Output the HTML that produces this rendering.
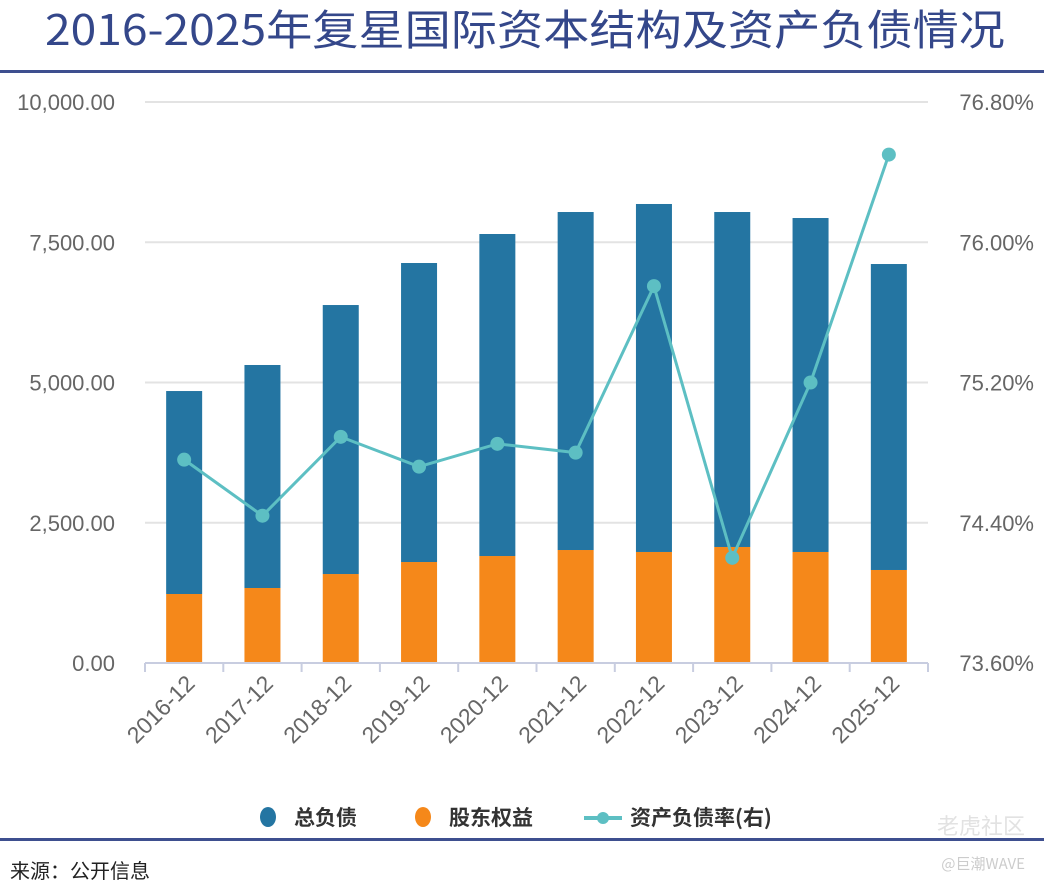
<!DOCTYPE html>
<html><head><meta charset="utf-8"><style>
body{margin:0;background:#fff;width:1044px;height:888px;overflow:hidden;font-family:"Liberation Sans","Noto Sans CJK SC",sans-serif}
</style></head><body>
<svg id="c" width="1044" height="888" xmlns="http://www.w3.org/2000/svg">
<text x="45" y="45" font-size="42" fill="#34478a" textLength="960" lengthAdjust="spacingAndGlyphs" font-family="'Noto Sans CJK SC',sans-serif">2016-2025年复星国际资本结构及资产负债情况</text>
<rect x="0" y="70" width="1044" height="3" fill="#3e4f8f"/>
<rect x="0" y="838" width="1044" height="3" fill="#3e4f8f"/>
<text x="10" y="878" font-size="20" fill="#222" font-family="'Noto Sans CJK SC',sans-serif">来源：公开信息</text>
<text x="1025" y="834" text-anchor="end" font-size="22" fill="#e2e2e2" font-family="'Noto Sans CJK SC',sans-serif">老虎社区</text>
<text x="1025" y="869" text-anchor="end" font-size="15" fill="#ccc" font-family="'Noto Sans CJK SC',sans-serif">@巨潮WAVE</text>
<g id="grid"></g><g id="bars"></g><g id="line"></g><g id="axes"></g>
<g font-family="'Noto Sans CJK SC',sans-serif" font-size="21" font-weight="bold" fill="#333">
<ellipse cx="268" cy="817" rx="8" ry="10" fill="#2475a2"/>
<text x="294" y="825">总负债</text>
<ellipse cx="423" cy="817" rx="8" ry="10" fill="#f5881a"/>
<text x="449" y="825">股东权益</text>
<line x1="584" y1="818" x2="622" y2="818" stroke="#5dbfc3" stroke-width="4"/>
<circle cx="603" cy="818" r="6" fill="#5dbfc3"/>
<text x="630" y="825">资产负债率(右)</text>
</g>
</svg>
<script>
const categories=["2016-12","2017-12","2018-12","2019-12","2020-12","2021-12","2022-12","2023-12","2024-12","2025-12"];
const equity=[1230,1337,1586,1800,1907,2014,1979,2068,1979,1658];
const liabilities=[3618,3975,4795,5330,5740,6025,6203,5971,5953,5454];
const ratio=[74.76,74.44,74.89,74.72,74.85,74.80,75.75,74.20,75.20,76.50];
const leftTicks=[0,2500,5000,7500,10000];
const rightTicks=[73.6,74.4,75.2,76.0,76.8];
const NS="http://www.w3.org/2000/svg";
const X0=145,X1=928,Y0=663,Y1=102;
const band=(X1-X0)/categories.length;
const xc=i=>X0+band*(i+0.5);
const yL=v=>Y0-(v/10000)*(Y0-Y1);
const yR=v=>Y0-((v-73.6)/3.2)*(Y0-Y1);
function mk(tag,attrs,parent,txt){const e=document.createElementNS(NS,tag);for(const k in attrs)e.setAttribute(k,attrs[k]);if(txt!==undefined)e.textContent=txt;document.getElementById(parent).appendChild(e);return e;}
const fmt=v=>v.toLocaleString('en-US',{minimumFractionDigits:2,maximumFractionDigits:2});
leftTicks.forEach((t,i)=>{
 if(t>0){const g=mk('line',{x1:X0,x2:X1,y1:yL(t),y2:yL(t),stroke:'#e3e3e3','stroke-width':2},'grid');
 
 }
 const l=mk('text',{x:115,y:yL(t)+8,'text-anchor':'end','font-size':22,fill:'#666'},'axes',fmt(t));
 
 
});
rightTicks.forEach(t=>{
 const l=mk('text',{x:1034,y:yR(t)+8,'text-anchor':'end','font-size':22,fill:'#666'},'axes',t.toFixed(2)+'%');
 
 
});
const ax=mk('line',{x1:X0,x2:X1,y1:Y0,y2:Y0,stroke:'#c8cde0','stroke-width':2},'axes');


for(let i=0;i<=categories.length;i++){const tk=mk('line',{x1:X0+band*i,x2:X0+band*i,y1:Y0,y2:Y0+9,stroke:'#c8cde0','stroke-width':2},'axes');

}
categories.forEach((c,i)=>{
 const x=xc(i),w=36;
 const o=mk('rect',{x:x-w/2,y:yL(equity[i]),width:w,height:Y0-yL(equity[i]),fill:'#f5881a'},'bars');
 
 
 const top=equity[i]+liabilities[i];
 const b=mk('rect',{x:x-w/2,y:yL(top),width:w,height:yL(equity[i])-yL(top),fill:'#2475a2'},'bars');
 
 
 const l=mk('text',{x:x+12,y:Y0+22,'text-anchor':'end','font-size':23,fill:'#666',transform:`rotate(-45 ${x+12} ${Y0+22})`},'axes',c);
 
 
});
const pl=mk('polyline',{points:ratio.map((v,i)=>xc(i)+','+yR(v)).join(' '),fill:'none',stroke:'#5dbfc3','stroke-width':3},'line');


ratio.forEach((v,i)=>{const p=mk('circle',{cx:xc(i),cy:yR(v),r:7,fill:'#5dbfc3'},'line');

});
</script>
</body></html>
